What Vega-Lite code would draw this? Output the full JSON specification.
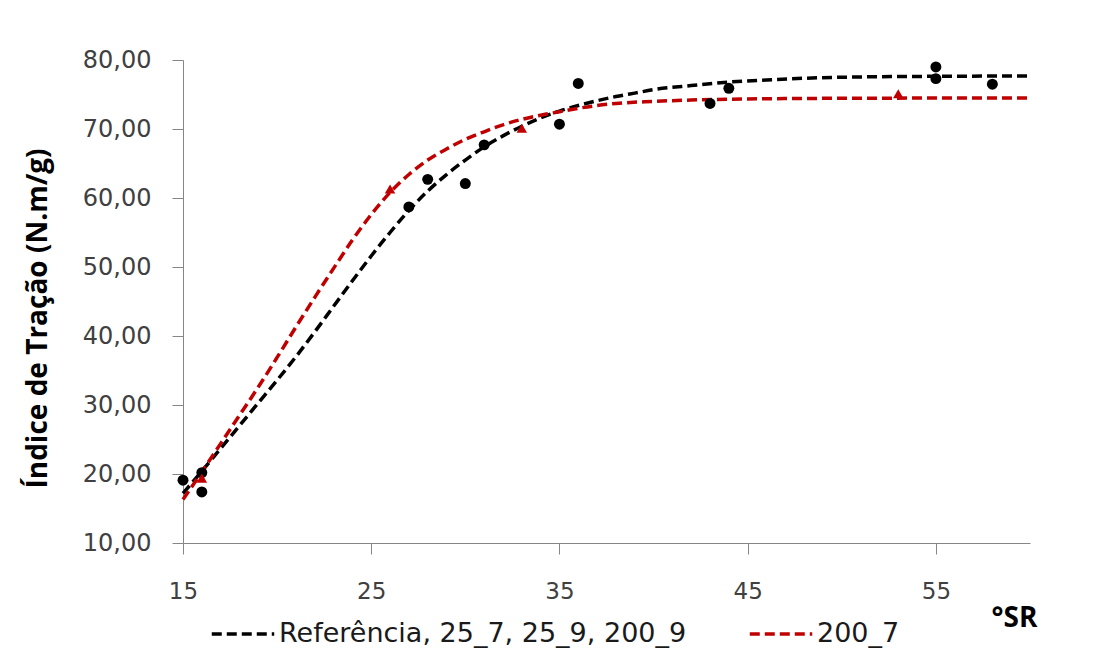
{
  "$schema": "https://vega.github.io/schema/vega-lite/v6.json",
  "width": 847,
  "height": 483,
  "autosize": {"type": "none"},
  "padding": {"left": 183, "top": 60, "right": 77, "bottom": 113},
  "background": "white",
  "config": {
    "font": "DejaVu Sans",
    "view": {"stroke": null},
    "axis": {"grid": false, "labelFlush": false, "domainColor": "#868686", "tickColor": "#868686", "tickSize": 11, "labelFontSize": 23, "labelColor": "#404040", "labelFont": "DejaVu Sans", "titleFont": "Open Sans"}
  },
  "datasets": {
    "curves": [
      {"x": 15, "y": 17.2, "s": "Referência, 25_7, 25_9, 200_9"},
      {"x": 16, "y": 20.4, "s": "Referência, 25_7, 25_9, 200_9"},
      {"x": 17, "y": 23.7, "s": "Referência, 25_7, 25_9, 200_9"},
      {"x": 18, "y": 27.0, "s": "Referência, 25_7, 25_9, 200_9"},
      {"x": 19, "y": 30.3, "s": "Referência, 25_7, 25_9, 200_9"},
      {"x": 20, "y": 33.6, "s": "Referência, 25_7, 25_9, 200_9"},
      {"x": 21, "y": 37.0, "s": "Referência, 25_7, 25_9, 200_9"},
      {"x": 22, "y": 40.6, "s": "Referência, 25_7, 25_9, 200_9"},
      {"x": 23, "y": 44.3, "s": "Referência, 25_7, 25_9, 200_9"},
      {"x": 24, "y": 48.0, "s": "Referência, 25_7, 25_9, 200_9"},
      {"x": 25, "y": 51.6, "s": "Referência, 25_7, 25_9, 200_9"},
      {"x": 26, "y": 55.0, "s": "Referência, 25_7, 25_9, 200_9"},
      {"x": 27, "y": 58.2, "s": "Referência, 25_7, 25_9, 200_9"},
      {"x": 28, "y": 61.0, "s": "Referência, 25_7, 25_9, 200_9"},
      {"x": 29, "y": 63.4, "s": "Referência, 25_7, 25_9, 200_9"},
      {"x": 30, "y": 65.5, "s": "Referência, 25_7, 25_9, 200_9"},
      {"x": 31, "y": 67.4, "s": "Referência, 25_7, 25_9, 200_9"},
      {"x": 32, "y": 69.0, "s": "Referência, 25_7, 25_9, 200_9"},
      {"x": 33, "y": 70.4, "s": "Referência, 25_7, 25_9, 200_9"},
      {"x": 34, "y": 71.6, "s": "Referência, 25_7, 25_9, 200_9"},
      {"x": 35, "y": 72.6, "s": "Referência, 25_7, 25_9, 200_9"},
      {"x": 36, "y": 73.4, "s": "Referência, 25_7, 25_9, 200_9"},
      {"x": 37, "y": 74.1, "s": "Referência, 25_7, 25_9, 200_9"},
      {"x": 38, "y": 74.7, "s": "Referência, 25_7, 25_9, 200_9"},
      {"x": 39, "y": 75.2, "s": "Referência, 25_7, 25_9, 200_9"},
      {"x": 40, "y": 75.7, "s": "Referência, 25_7, 25_9, 200_9"},
      {"x": 42, "y": 76.3, "s": "Referência, 25_7, 25_9, 200_9"},
      {"x": 44, "y": 76.8, "s": "Referência, 25_7, 25_9, 200_9"},
      {"x": 46, "y": 77.1, "s": "Referência, 25_7, 25_9, 200_9"},
      {"x": 48, "y": 77.35, "s": "Referência, 25_7, 25_9, 200_9"},
      {"x": 50, "y": 77.5, "s": "Referência, 25_7, 25_9, 200_9"},
      {"x": 53, "y": 77.6, "s": "Referência, 25_7, 25_9, 200_9"},
      {"x": 56, "y": 77.65, "s": "Referência, 25_7, 25_9, 200_9"},
      {"x": 60, "y": 77.7, "s": "Referência, 25_7, 25_9, 200_9"},
      {"x": 15, "y": 16.3, "s": "200_7"},
      {"x": 16, "y": 20.3, "s": "200_7"},
      {"x": 17, "y": 24.4, "s": "200_7"},
      {"x": 18, "y": 28.5, "s": "200_7"},
      {"x": 19, "y": 32.6, "s": "200_7"},
      {"x": 20, "y": 36.9, "s": "200_7"},
      {"x": 21, "y": 41.3, "s": "200_7"},
      {"x": 22, "y": 45.6, "s": "200_7"},
      {"x": 23, "y": 49.8, "s": "200_7"},
      {"x": 24, "y": 53.9, "s": "200_7"},
      {"x": 25, "y": 57.6, "s": "200_7"},
      {"x": 26, "y": 60.8, "s": "200_7"},
      {"x": 27, "y": 63.4, "s": "200_7"},
      {"x": 28, "y": 65.5, "s": "200_7"},
      {"x": 29, "y": 67.1, "s": "200_7"},
      {"x": 30, "y": 68.5, "s": "200_7"},
      {"x": 31, "y": 69.6, "s": "200_7"},
      {"x": 32, "y": 70.6, "s": "200_7"},
      {"x": 33, "y": 71.4, "s": "200_7"},
      {"x": 34, "y": 72.0, "s": "200_7"},
      {"x": 35, "y": 72.5, "s": "200_7"},
      {"x": 36, "y": 73.0, "s": "200_7"},
      {"x": 37, "y": 73.4, "s": "200_7"},
      {"x": 38, "y": 73.7, "s": "200_7"},
      {"x": 40, "y": 74.0, "s": "200_7"},
      {"x": 42, "y": 74.2, "s": "200_7"},
      {"x": 45, "y": 74.35, "s": "200_7"},
      {"x": 50, "y": 74.45, "s": "200_7"},
      {"x": 60, "y": 74.5, "s": "200_7"}
    ],
    "points": [
      {"x": 15, "y": 19.1, "s": "ref"},
      {"x": 16, "y": 20.2, "s": "ref"},
      {"x": 16, "y": 17.4, "s": "ref"},
      {"x": 27, "y": 58.7, "s": "ref"},
      {"x": 28, "y": 62.7, "s": "ref"},
      {"x": 30, "y": 62.1, "s": "ref"},
      {"x": 31, "y": 67.7, "s": "ref"},
      {"x": 35, "y": 70.7, "s": "ref"},
      {"x": 36, "y": 76.6, "s": "ref"},
      {"x": 43, "y": 73.7, "s": "ref"},
      {"x": 44, "y": 75.9, "s": "ref"},
      {"x": 55, "y": 79.0, "s": "ref"},
      {"x": 55, "y": 77.3, "s": "ref"},
      {"x": 58, "y": 76.5, "s": "ref"},
      {"x": 16, "y": 19.4, "s": "200_7"},
      {"x": 26, "y": 61.3, "s": "200_7"},
      {"x": 33, "y": 70.1, "s": "200_7"},
      {"x": 53, "y": 75.1, "s": "200_7"}
    ]
  },
  "encoding": {
    "x": {"field": "x", "type": "quantitative",
      "scale": {"domain": [15, 60], "nice": false, "zero": false},
      "axis": {"values": [15, 25, 35, 45, 55], "labelPadding": 26, "title": "°SR", "titleFontSize": 28, "titleFontWeight": "bold", "titleColor": "#000000", "titleX": 831, "titleY": 75, "titleAlign": "center", "titleBaseline": "middle"}},
    "y": {"field": "y", "type": "quantitative",
      "scale": {"domain": [10, 80], "nice": false, "zero": false},
      "axis": {"values": [10, 20, 30, 40, 50, 60, 70, 80], "labelFontSize": 24, "labelPadding": 21, "labelExpr": "replace(format(datum.value, '.2f'), '.', ',')", "title": "Índice de Tração (N.m/g)", "titleFontSize": 28, "titleFontWeight": "bold", "titleColor": "#000000", "titleX": -145, "titleY": 258, "titleAngle": -90, "titleAlign": "center", "titleBaseline": "middle"}}
  },
  "layer": [
    {
      "data": {"name": "curves"},
      "mark": {"type": "line", "interpolate": "monotone", "strokeWidth": 3.5, "strokeDash": [10, 5]},
      "encoding": {
        "color": {"field": "s", "type": "nominal",
          "scale": {"domain": ["Referência, 25_7, 25_9, 200_9", "200_7"], "range": ["#000000", "#C00000"]},
          "legend": {"orient": "none", "direction": "horizontal", "legendX": 27, "legendY": 541, "title": null, "symbolType": "stroke", "symbolSize": 3900, "symbolStrokeWidth": 3.5, "symbolDash": [10, 5], "labelFontSize": 27, "labelLimit": 0, "labelColor": "#1a1a1a", "labelFont": "DejaVu Sans", "labelOffset": 3, "columnPadding": 55, "padding": 0}}
      }
    },
    {
      "data": {"name": "points"},
      "transform": [{"filter": "datum.s == 'ref'"}],
      "mark": {"type": "point", "shape": "circle", "filled": true, "color": "#000000", "opacity": 1, "size": 120}
    },
    {
      "data": {"name": "points"},
      "transform": [{"filter": "datum.s == '200_7'"}],
      "mark": {"type": "point", "shape": "triangle-up", "filled": true, "color": "#C00000", "opacity": 1, "size": 110}
    }
  ]
}
